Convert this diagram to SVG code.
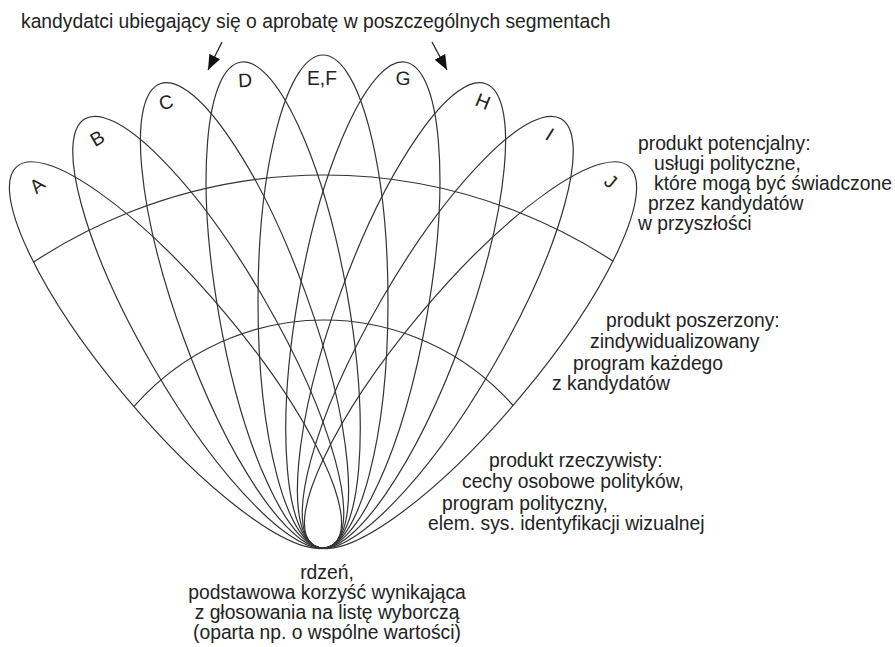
<svg xmlns="http://www.w3.org/2000/svg" width="895" height="647" viewBox="0 0 895 647">
<style>
.p{fill:none;stroke:#333;stroke-width:1.2}
.t{font-family:"Liberation Sans",Arial,sans-serif;font-size:19.3px;fill:#222}
.m{text-anchor:middle}
.c{fill:none;stroke:#333;stroke-width:1.2}
</style>
<defs>
<marker id="ah" markerUnits="userSpaceOnUse" markerWidth="16" markerHeight="12" refX="15" refY="6" orient="auto">
<path d="M0,0 L15,6 L0,12 z" fill="#111"/>
</marker>
<clipPath id="petals">
<ellipse cx="323" cy="301.5" rx="65" ry="246.5" transform="rotate(-40 323 531)"/>
<ellipse cx="323" cy="301.5" rx="65" ry="246.5" transform="rotate(-30 323 531)"/>
<ellipse cx="323" cy="301.5" rx="65" ry="246.5" transform="rotate(-20 323 531)"/>
<ellipse cx="323" cy="301.5" rx="65" ry="246.5" transform="rotate(-10 323 531)"/>
<ellipse cx="323" cy="301.5" rx="65" ry="246.5"/>
<ellipse cx="323" cy="301.5" rx="65" ry="246.5" transform="rotate(10 323 531)"/>
<ellipse cx="323" cy="301.5" rx="65" ry="246.5" transform="rotate(20 323 531)"/>
<ellipse cx="323" cy="301.5" rx="65" ry="246.5" transform="rotate(30 323 531)"/>
<ellipse cx="323" cy="301.5" rx="65" ry="246.5" transform="rotate(40 323 531)"/>
</clipPath>
</defs>
<rect width="895" height="647" fill="#fff"/>

<g id="title"><text class="t" x="21" y="28">kandydatci ubiegający się o aprobatę w poszczególnych segmentach</text></g>

<g id="petal-A"><ellipse class="p" cx="323" cy="301.5" rx="65" ry="246.5" transform="rotate(-40 323 531)"/><text class="t m" transform="translate(37 185) rotate(-40)" y="7">A</text></g>
<g id="petal-B"><ellipse class="p" cx="323" cy="301.5" rx="65" ry="246.5" transform="rotate(-30 323 531)"/><text class="t m" transform="translate(97 138) rotate(-30)" y="7">B</text></g>
<g id="petal-C"><ellipse class="p" cx="323" cy="301.5" rx="65" ry="246.5" transform="rotate(-20 323 531)"/><text class="t m" transform="translate(166 102) rotate(-15)" y="7">C</text></g>
<g id="petal-D"><ellipse class="p" cx="323" cy="301.5" rx="65" ry="246.5" transform="rotate(-10 323 531)"/><text class="t m" transform="translate(245 80) rotate(-3)" y="7">D</text></g>
<g id="petal-EF"><ellipse class="p" cx="323" cy="301.5" rx="65" ry="246.5"/><text class="t m" x="322" y="85">E,F</text></g>
<g id="petal-G"><ellipse class="p" cx="323" cy="301.5" rx="65" ry="246.5" transform="rotate(10 323 531)"/><text class="t m" transform="translate(403 78) rotate(3)" y="7">G</text></g>
<g id="petal-H"><ellipse class="p" cx="323" cy="301.5" rx="65" ry="246.5" transform="rotate(20 323 531)"/><text class="t m" transform="translate(483 101) rotate(22)" y="7">H</text></g>
<g id="petal-I"><ellipse class="p" cx="323" cy="301.5" rx="65" ry="246.5" transform="rotate(30 323 531)"/><text class="t m" transform="translate(550 134) rotate(32)" y="7">I</text></g>
<g id="petal-J"><ellipse class="p" cx="323" cy="301.5" rx="65" ry="246.5" transform="rotate(40 323 531)"/><text class="t m" transform="translate(611 181) rotate(40)" y="7">J</text></g>

<g id="levels" clip-path="url(#petals)">
<circle class="c" cx="324" cy="702" r="527"/>
<circle class="c" cx="324" cy="572" r="252"/>
</g>

<g id="connectors">
<line x1="222" y1="42" x2="208" y2="70" stroke="#222" stroke-width="1.3" marker-end="url(#ah)"/>
<line x1="432" y1="42" x2="447" y2="70" stroke="#222" stroke-width="1.3" marker-end="url(#ah)"/>
</g>

<g id="potential">
<text class="t" x="638" y="150">produkt potencjalny:</text>
<text class="t" x="654" y="170">usługi polityczne,</text>
<text class="t" x="654" y="190">które mogą być świadczone</text>
<text class="t" x="648" y="210">przez kandydatów</text>
<text class="t" x="638" y="230">w przyszłości</text>
</g>
<g id="extended">
<text class="t" x="606" y="327">produkt poszerzony:</text>
<text class="t" x="590" y="348">zindywidualizowany</text>
<text class="t" x="573" y="370">program każdego</text>
<text class="t" x="552" y="390">z kandydatów</text>
</g>
<g id="actual">
<text class="t" x="489" y="467">produkt rzeczywisty:</text>
<text class="t" x="462" y="488">cechy osobowe polityków,</text>
<text class="t" x="442" y="510">program polityczny,</text>
<text class="t" x="428" y="530">elem. sys. identyfikacji wizualnej</text>
</g>
<g id="core">
<text class="t m" x="327" y="579">rdzeń,</text>
<text class="t m" x="327" y="599">podstawowa korzyść wynikająca</text>
<text class="t m" x="327" y="619">z głosowania na listę wyborczą</text>
<text class="t m" x="327" y="639">(oparta np. o wspólne wartości)</text>
</g>
</svg>
